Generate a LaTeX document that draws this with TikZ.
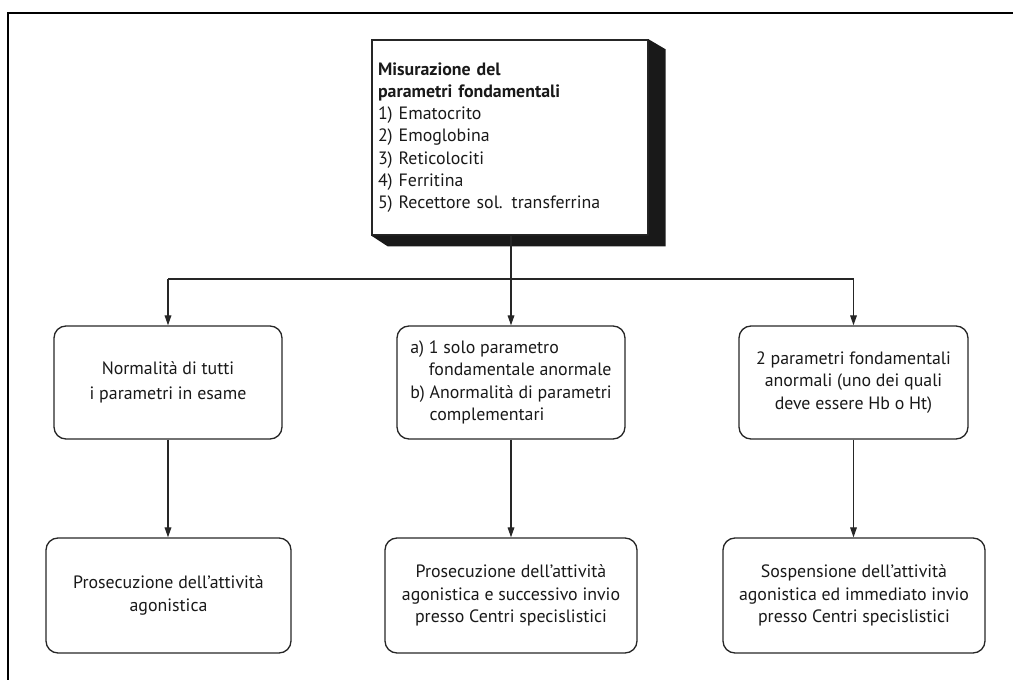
\documentclass[tikz,border=0pt]{standalone}
\usepackage{fontspec}
\setmainfont{PT Sans}
\usetikzlibrary{arrows.meta,calc}
\begin{document}
\begin{tikzpicture}[x=0.75pt,y=-0.75pt,
  every node/.style={text=black!90},
  box/.style={draw=black!85, line width=1pt, rounded corners=9pt, inner sep=0pt,
    font=\fontsize{13.4}{16.8}\selectfont, align=center, minimum height=84.75pt},
  topbox/.style={draw=black!85, line width=1pt, inner xsep=4.5pt, inner ysep=0pt,
    font=\fontsize{13.4}{16.6}\selectfont, align=left, text width=198pt,
    minimum width=207pt, minimum height=146.25pt},
  arr/.style={-{Triangle[length=7.5pt,width=5pt]}, line width=0.9pt, draw=black!85},
  ln/.style={line width=0.9pt, draw=black!85}]
\useasboundingbox (0,0) rectangle (1013,679);
\clip (0,0) rectangle (1013,679);
\draw[line width=1.7pt] (8,13) rectangle (1040,700);

% top box
\node[topbox] (top) at (510,137.5) {\textbf{Misurazione del}\\\textbf{parametri fondamentali}\\1) Ematocrito\\2) Emoglobina\\3) Reticolociti\\4) Ferritina\\5) Recettore sol. transferrina};
\fill[black!90] (top.north east) -- ++(17,10) -- ++(0,197) -- ++(-278,0) -- (top.south west) -- (top.south east) -- cycle;

% middle row
\node[box, minimum width=171pt, font=\fontsize{13.4}{18.5}\selectfont] (m1) at (168,382.5) {Normalità di tutti\\i parametri in esame};
\node[box, minimum width=171pt, align=left] (m2) at (511,382.5) {a)\ 1 solo parametro\\\hphantom{a)\ }fondamentale anormale\\b)\ Anormalità di parametri\\\hphantom{b)\ }complementari};
\node[box, minimum width=171.75pt] (m3) at (853.5,382.5) {2 parametri fondamentali\\anormali (uno dei quali\\deve essere Hb o Ht)};

% bottom row
\node[box, minimum width=183.75pt, minimum height=86.25pt] (b1) at (168.5,595.5) {Prosecuzione dell'attività\\agonistica};
\node[box, minimum width=189pt, minimum height=86.25pt] (b2) at (511,595.5) {Prosecuzione dell'attività\\agonistica e successivo invio\\presso Centri specislistici};
\node[box, minimum width=196.5pt, minimum height=86.25pt] (b3) at (854,595.5) {Sospensione dell'attività\\agonistica ed immediato invio\\presso Centri specislistici};

% connectors
\coordinate (j) at (511,279);
\draw[ln] (top.south -| j) -- (j);
\draw[ln] (m1.north |- j) -- (m3.north |- j);
\draw[arr] (m1.north |- j) -- (m1.north);
\draw[arr] (j) -- (m2.north);
\draw[arr] (m3.north |- j) -- (m3.north);
\draw[arr] (m1.south) -- (m1.south |- b1.north);
\draw[arr] (m2.south) -- (m2.south |- b2.north);
\draw[arr] (m3.south) -- (m3.south |- b3.north);
\end{tikzpicture}
\end{document}
